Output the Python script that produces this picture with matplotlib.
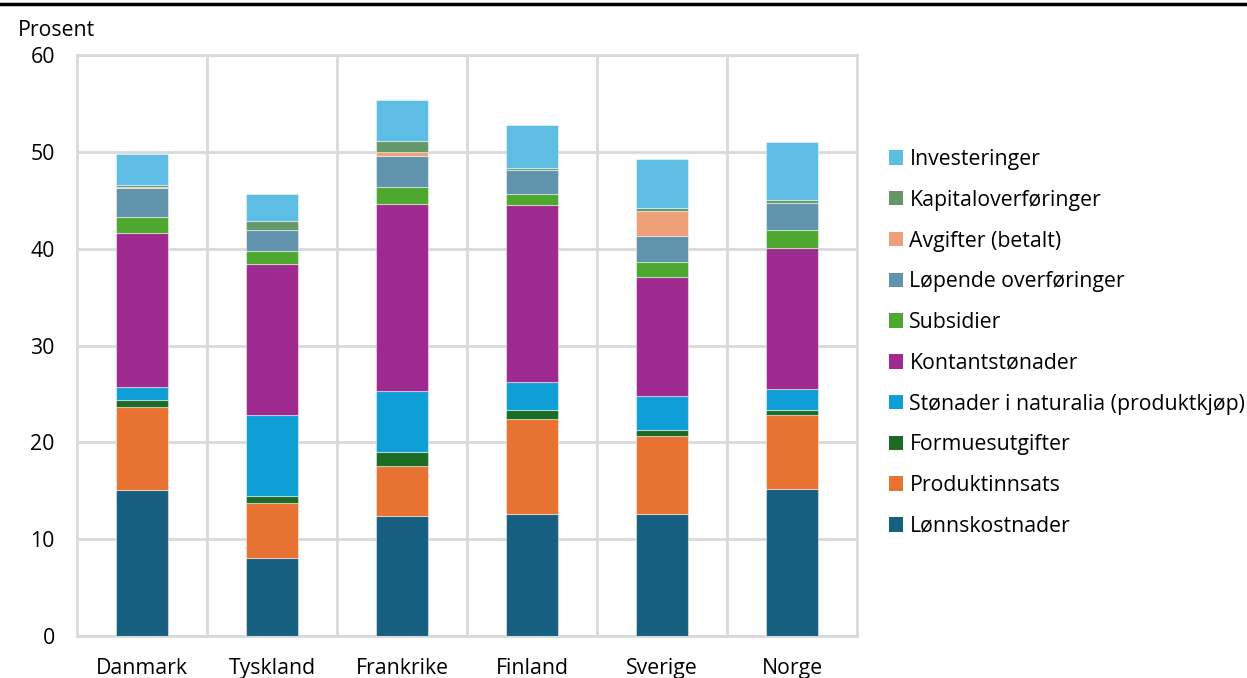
import matplotlib
matplotlib.use("Agg")
import matplotlib.pyplot as plt
from matplotlib.patches import Patch
from matplotlib.lines import Line2D
import numpy as np

plt.rcParams['font.family'] = ['Open Sans', 'DejaVu Sans']

countries = ["Danmark", "Tyskland", "Frankrike", "Finland", "Sverige", "Norge"]

components = [
    "Lønnskostnader",
    "Produktinnsats",
    "Formuesutgifter",
    "Stønader i naturalia (produktkjøp)",
    "Kontantstønader",
    "Subsidier",
    "Løpende overføringer",
    "Avgifter (betalt)",
    "Kapitaloverføringer",
    "Investeringer",
]

lonnskostnader = [15.1, 8.1, 12.4, 12.55, 12.55, 15.2]
produktinnsats = [8.6, 5.6, 5.2, 9.85, 8.15, 7.6]
formuesutgifter = [0.65, 0.75, 1.45, 0.9, 0.55, 0.5]
naturalia = [1.4, 8.35, 6.25, 2.9, 3.5, 2.2]
kontantstonader = [15.9, 15.6, 19.3, 18.3, 12.3, 14.55]
subsidier = [1.6, 1.4, 1.75, 1.1, 1.55, 1.9]
lopende = [3.05, 2.15, 3.2, 2.55, 2.7, 2.75]
avgifter = [0.1, 0.0, 0.4, 0.0, 2.6, 0.0]
kapital = [0.2, 0.95, 1.15, 0.15, 0.3, 0.3]
investeringer = [3.15, 2.75, 4.25, 4.5, 5.1, 6.0]

series = [lonnskostnader, produktinnsats, formuesutgifter, naturalia,
          kontantstonader, subsidier, lopende, avgifter, kapital, investeringer]

colors = ["#175F80", "#E87231", "#1B6B25", "#109ED6", "#9E2A8F",
          "#4EA72E", "#6193AD", "#EFA078", "#64986A", "#5DBDE3"]

FS = 15.3

fig = plt.figure(figsize=(12.47, 6.78), dpi=100)
ax = fig.add_axes([77 / 1247, 42 / 678, 780 / 1247, 581 / 678])

x = np.arange(len(countries))
bottom = np.zeros(len(countries))
for vals, col in zip(series, colors):
    v = np.array(vals)
    ax.bar(x, v, width=0.4, bottom=bottom, color=col,
           edgecolor=(1, 1, 1, 0.45), linewidth=0.8, zorder=3)
    bottom += v

grid_col = "#D9D9D9"
ax.set_xlim(-0.5, len(countries) - 0.5)
ax.set_ylim(0, 60)
ax.set_yticks(np.arange(0, 61, 10))
ax.set_xticks(x)
ax.set_xticklabels(countries)
for b in np.arange(0.5, len(countries) - 0.5, 1.0):
    ax.axvline(b, color=grid_col, linewidth=2, zorder=1)
ax.yaxis.grid(True, color=grid_col, linewidth=2, zorder=1)
ax.set_axisbelow(True)
for s in ax.spines.values():
    s.set_color(grid_col)
    s.set_linewidth(2)
ax.tick_params(axis='both', length=0, labelsize=FS, colors="#000000")
ax.tick_params(axis='x', pad=16)
ax.tick_params(axis='y', pad=16)

fig.text(18 / 1247, 1 - 30 / 678, "Prosent", fontsize=FS, va="center", ha="left")

# thick rule along the top edge
fig.add_artist(Line2D([0, 1], [1 - 3.5 / 678, 1 - 3.5 / 678],
                      color="black", linewidth=2.5, transform=fig.transFigure))

handles = [Patch(facecolor=c, edgecolor='none') for c in colors][::-1]
labels = components[::-1]
leg = fig.legend(handles, labels, loc="upper left",
                 bbox_to_anchor=(889 / 1247, 1 - 149 / 678),
                 frameon=False, fontsize=FS, handlelength=0.66, handleheight=0.66,
                 handletextpad=0.3, labelspacing=0.93, borderaxespad=0, borderpad=0)

fig.savefig("out.png", dpi=100)
